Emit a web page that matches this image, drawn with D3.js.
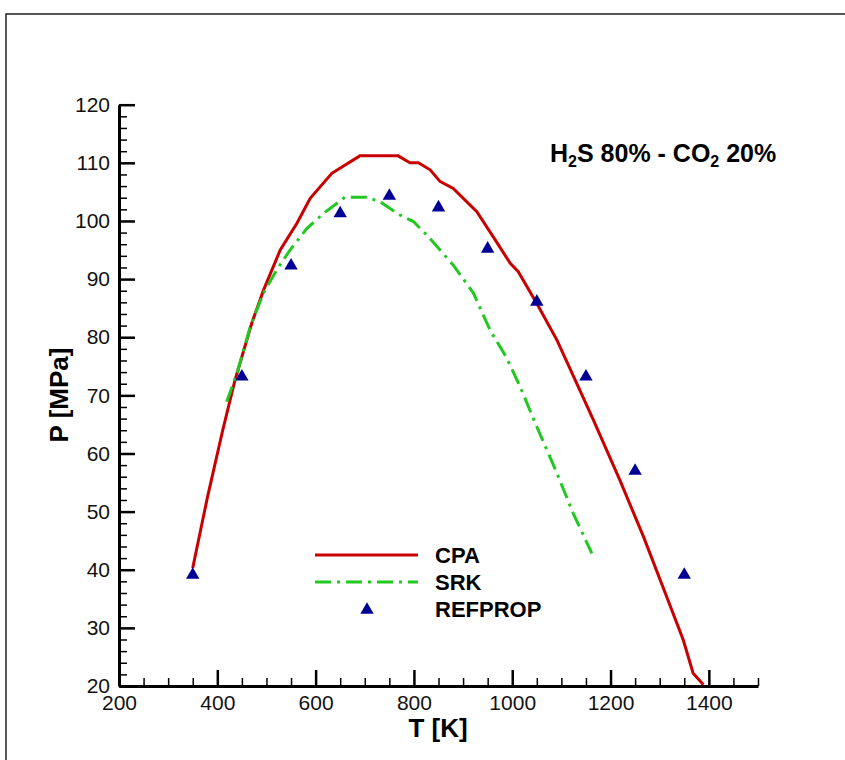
<!DOCTYPE html>
<html>
<head>
<meta charset="utf-8">
<script src="https://cdn.jsdelivr.net/npm/d3@7"></script>
<style>
  body { margin: 0; background: #fff; }
  text { font-family: "Liberation Sans", Arial, sans-serif; }
</style>
</head>
<body>
<svg id="chart" width="845" height="760"></svg>
<script>
// CPA / SRK curves and REFPROP points
var cpaT = [350, 380, 411, 436, 470, 494, 528, 562, 589, 633, 690, 768, 792, 809, 833, 853, 880, 928, 968, 996, 1012, 1050, 1091, 1131, 1165, 1219, 1267, 1314, 1348, 1368, 1389];
var cpaP = [40.3, 52.5, 64, 72.6, 82.4, 88.1, 95, 99.6, 103.9, 108.2, 111.2, 111.2, 110, 110, 108.8, 106.8, 105.6, 101.6, 96.4, 92.7, 91.3, 85.8, 79.5, 72.1, 65.8, 55.4, 45.7, 35.4, 27.9, 22.2, 20.2];

var srkT = [419, 440, 467, 494, 521, 548, 582, 616, 660, 704, 731, 772, 799, 826, 850, 880, 921, 955, 989, 1016, 1050, 1091, 1124, 1162];
var srkP = [68.9, 73.8, 81.8, 87.6, 91.6, 95, 98.7, 101.3, 104.1, 104.1, 103.3, 101, 99.9, 97.6, 95.3, 92.4, 87.6, 81.2, 76.4, 71.5, 64.6, 56.6, 49.7, 42.8];

var refT = [350, 450, 550, 650, 750, 850, 950, 1050, 1150, 1250, 1350];
var refP = [39.1, 73.2, 92.3, 101.3, 104.3, 102.3, 95.2, 86.1, 73.2, 57.0, 39.1];

var xTicks = [200, 400, 600, 800, 1000, 1200, 1400];
var yTicks = [20, 30, 40, 50, 60, 70, 80, 90, 100, 110, 120];
var legendNames = ["CPA", "SRK", "REFPROP"];

const red = "#c80000", green = "#22c822", blue = "#000096";

let svg = d3.select("#chart");

// outer frame
svg.append("rect")
    .attr("x", 6).attr("y", 14)
    .attr("width", 900).attr("height", 800)
    .attr("fill", "none").attr("stroke", "#222").attr("stroke-width", 1.5);

var x = d3.scaleLinear().domain([200, 1500]).range([119, 758]);
var y = d3.scaleLinear().domain([20, 120]).range([686, 104.7]);

// minor ticks first, majors on top
var xMinor = d3.range(250, 1501, 50).filter(v => v % 200 != 0);
var yMinor = d3.range(22, 120, 2).filter(v => v % 10 != 0);

svg.append("g")
    .attr("transform", "translate(0,686)")
    .call(d3.axisBottom(x).tickValues(xMinor).tickSizeInner(-8).tickSizeOuter(0).tickFormat(""))
    .call(g => g.select(".domain").remove())
    .selectAll("line").attr("stroke-width", 1.5);

svg.append("g")
    .attr("transform", "translate(119,0)")
    .call(d3.axisLeft(y).tickValues(yMinor).tickSizeInner(-8).tickSizeOuter(0).tickFormat(""))
    .call(g => g.select(".domain").remove())
    .selectAll("line").attr("stroke-width", 1.5);

var xAxis = svg.append("g")
    .attr("transform", "translate(0,686)")
    .call(d3.axisBottom(x).tickValues(xTicks).tickSizeInner(-16).tickSizeOuter(0)
        .tickPadding(9).tickFormat(d3.format("d")));
xAxis.select(".domain").attr("stroke-width", 3);
xAxis.selectAll("line").attr("stroke-width", 2.5);
xAxis.selectAll("text").attr("font-size", 21).attr("fill", "#111")
    .style("font-family", "'Liberation Sans', Arial, sans-serif");

var yAxis = svg.append("g")
    .attr("transform", "translate(119,0)")
    .call(d3.axisLeft(y).tickValues(yTicks).tickSizeInner(-16).tickSizeOuter(0)
        .tickPadding(9).tickFormat(d3.format("d")));
yAxis.select(".domain").attr("stroke-width", 3);
yAxis.selectAll("line").attr("stroke-width", 2.5);
yAxis.selectAll("text").attr("font-size", 21).attr("fill", "#111")
    .style("font-family", "'Liberation Sans', Arial, sans-serif");

// axis titles
svg.append("text")
    .attr("x", 438).attr("y", 737)
    .attr("text-anchor", "middle")
    .attr("font-size", 26).attr("font-weight", "bold")
    .text("T [K]");

svg.append("text")
    .attr("transform", "translate(68,395) rotate(-90)")
    .attr("text-anchor", "middle")
    .attr("font-size", 26).attr("font-weight", "bold")
    .text("P [MPa]");

// curves
var line = d3.line().x(d => x(d[0])).y(d => y(d[1]));

svg.append("path")
    .datum(cpaT.map((t, i) => [t, cpaP[i]]))
    .attr("d", line)
    .attr("fill", "none").attr("stroke", red).attr("stroke-width", 3);

svg.append("path")
    .datum(srkT.map((t, i) => [t, srkP[i]]))
    .attr("d", line)
    .attr("fill", "none").attr("stroke", green).attr("stroke-width", 3)
    .attr("stroke-dasharray", "16,6,3,6");

var tri = d3.symbol().type(d3.symbolTriangle).size(78);

svg.selectAll(".ref")
    .data(refT.map((t, i) => [t, refP[i]]))
    .enter()
    .append("path")
    .attr("class", "ref")
    .attr("d", tri)
    .attr("transform", d => `translate(${x(d[0])},${y(d[1])})`)
    .attr("fill", blue);

// title with subscripts
var title = svg.append("text")
    .attr("x", 550).attr("y", 162)
    .attr("font-size", 25).attr("font-weight", "bold")
    .style("white-space", "pre");
title.append("tspan").text("H");
title.append("tspan").attr("font-size", 16).attr("dy", 5).text("2");
title.append("tspan").attr("dy", -5).text("S 80% - CO");
title.append("tspan").attr("font-size", 16).attr("dy", 5).text("2");
title.append("tspan").attr("dy", -5).text(" 20%");

// legend
var leg = svg.append("g").attr("transform", "translate(315,555)");
leg.append("line").attr("x1", 0).attr("x2", 103).attr("y1", 0).attr("y2", 0)
    .attr("stroke", red).attr("stroke-width", 3);
leg.append("line").attr("x1", 0).attr("x2", 103).attr("y1", 27).attr("y2", 27)
    .attr("stroke", green).attr("stroke-width", 3).attr("stroke-dasharray", "16,6,3,6");
leg.append("path").attr("d", tri).attr("transform", "translate(52,55)").attr("fill", blue);

leg.selectAll(".ltxt")
    .data(legendNames)
    .enter()
    .append("text")
    .attr("class", "ltxt")
    .attr("x", 120)
    .attr("y", (d, i) => 7.5 + i * 27)
    .attr("font-size", 22).attr("font-weight", "bold")
    .text(d => d);
</script>
</body>
</html>
